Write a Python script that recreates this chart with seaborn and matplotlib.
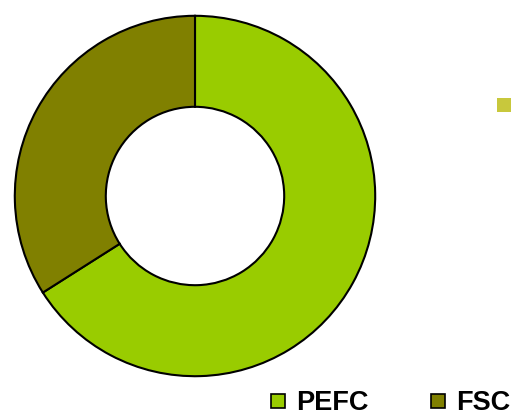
import matplotlib
matplotlib.use("Agg")
import matplotlib.pyplot as plt
import seaborn as sns
from matplotlib.patches import Rectangle
from matplotlib.lines import Line2D

categories = ["PEFC", "FSC"]
values = [66, 34]
colors = ["#99CC00", "#808000"]

sns.set_theme(style="white")
plt.rcParams['font.family'] = ['Liberation Sans', 'DejaVu Sans']

W, H = 515, 417
fig = plt.figure(figsize=(W / 100, H / 100), dpi=100)
fig.patch.set_facecolor("white")

ax = fig.add_axes([13 / W, (H - 378) / H, 364 / W, 364 / H])
ax.pie(values, colors=colors, startangle=90, counterclock=False,
       radius=1.0,
       wedgeprops=dict(width=0.505, edgecolor="black", linewidth=1.5))
ax.set_aspect("equal")
ax.set_xlim(-1.01, 1.01)
ax.set_ylim(-1.01, 1.01)
ax.axis("off")

# small stray square marker at right
fig.patches.append(Rectangle((497 / W, (H - 112) / H), 14 / W, 14 / H,
                             transform=fig.transFigure, facecolor="#C8C83C",
                             edgecolor="none"))

handles = [Line2D([0], [0], marker="s", linestyle="none", markersize=9.4,
                  markerfacecolor=c, markeredgecolor="black", markeredgewidth=1.2)
           for c in colors]
fig.legend(handles, categories, loc="lower right", bbox_to_anchor=(1.038, -0.057),
           ncol=2, frameon=False, handletextpad=0.05, columnspacing=2.0,
           handlelength=1.2, labelcolor="black", prop=dict(weight="heavy", size=19.5))

fig.savefig("out.png", dpi=100, facecolor="white")
